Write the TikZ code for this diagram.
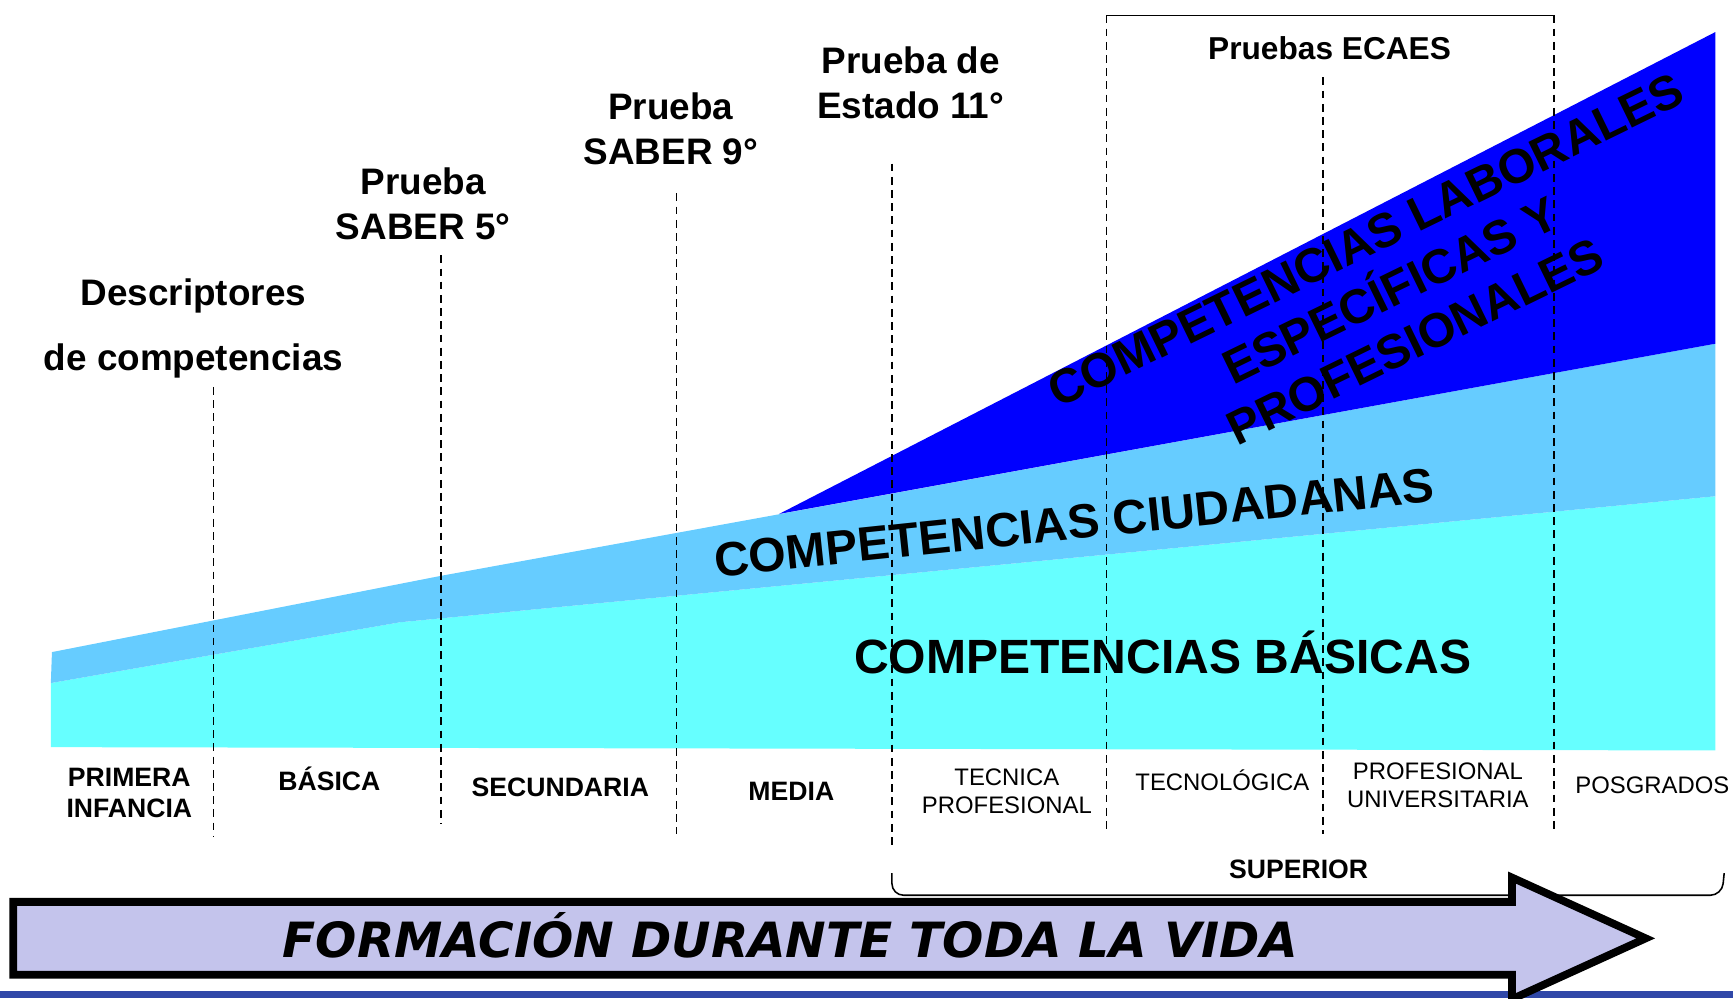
\documentclass[tikz,border=0pt]{standalone}
\usepackage{fontspec}
\setmainfont{Liberation Sans}
\newfontfamily\arrowfont{DejaVu Sans}
\definecolor{basicas}{HTML}{66FFFF}
\definecolor{ciudadanas}{HTML}{66CCFF}
\definecolor{laborales}{HTML}{0000FF}
\definecolor{lavanda}{HTML}{C4C4EC}
\definecolor{franja}{HTML}{3048A8}
\tikzset{
  prueba/.style={font=\bfseries\fontsize{19}{23.3}\selectfont, align=center, inner sep=0pt, anchor=base},
  nivel/.style={font=\bfseries\fontsize{13.7}{16}\selectfont, align=center, inner sep=0pt, anchor=base},
  ciclo/.style={font=\fontsize{12.3}{14.5}\selectfont, align=center, inner sep=0pt, anchor=base},
  competencia/.style={font=\bfseries\fontsize{24.75}{29}\selectfont, align=center, inner sep=0pt},
  corte/.style={dash pattern=on 4pt off 2.8pt, line width=0.7pt}
}
\begin{document}
\begin{tikzpicture}[x=0.02cm, y=-0.02cm]
        \useasboundingbox (0,0) rectangle (1568,903);

        \fill[basicas] (46,618)--(362,563)--(1552,449)--(1552,679)--(46,676)--cycle;
        \fill[ciudadanas] (47,590)--(399,521)--(1552,311)--(1552,449)--(362,563)--(46,618)--cycle;
        \fill[laborales] (705,465)--(1552,29)--(1552,311)--cycle;

        \draw[corte] (193,350)--(193,757);
        \draw[corte] (399,231)--(399,745);
        \draw[corte] (612,175)--(612,755);
        \draw[corte] (807,148)--(807,768);
        \draw[corte] (1001,14)--(1001,751);
        \draw[corte] (1197,70)--(1197,755);
        \draw[corte] (1406,14)--(1406,754);
        \draw[line width=0.8pt] (1001,14)--(1406,14);

        \node[prueba, font=\bfseries\fontsize{19}{33.6}\selectfont] (descriptores) at (175,335) {Descriptores\\de competencias};
        \node[prueba] (saber5) at (383,217) {Prueba\\SABER 5°};
        \node[prueba] (saber9) at (607,149) {Prueba\\SABER 9°};
        \node[prueba] (estado11) at (824,107) {Prueba de\\Estado 11°};
        \node[prueba, font=\bfseries\fontsize{16.3}{20}\selectfont] (ecaes) at (1203,54) {Pruebas ECAES};

        \node[competencia, rotate=26] (laborales) at (1258,263) {COMPETENCIAS LABORALES\\ESPECÍFICAS Y\\PROFESIONALES};
        \node[competencia, rotate=6] (ciudadanas) at (972,473) {COMPETENCIAS CIUDADANAS};
        \node[competencia, anchor=base] (basicas) at (1052,609) {COMPETENCIAS BÁSICAS};

        \node[nivel] (infancia) at (117,740) {PRIMERA\\INFANCIA};
        \node[nivel] (basica) at (298,715) {BÁSICA};
        \node[nivel] (secundaria) at (507,721) {SECUNDARIA};
        \node[nivel] (media) at (716,724) {MEDIA};
        \node[ciclo] (tecnica) at (911,736) {TECNICA\\PROFESIONAL};
        \node[ciclo] (tecnologica) at (1106,715) {TECNOLÓGICA};
        \node[ciclo] (universitaria) at (1301,731) {PROFESIONAL\\UNIVERSITARIA};
        \node[ciclo] (posgrados) at (1495,718) {POSGRADOS};
        \node[nivel] (superior) at (1175,795) {SUPERIOR};

        \draw[line width=0.8pt, rounded corners=6] (807,790)--(807,810)--(1558,810)--(1560,790);

        \fill[franja] (0,897) rectangle (1568,903);
        \draw[line width=4pt, fill=lavanda] (12,816)--(1368,816)--(1368,794)--(1489,849)--(1368,904)--(1368,882)--(12,882)--cycle;
        \node[font=\arrowfont\bfseries\itshape\fontsize{25}{30}\selectfont, inner sep=0pt, anchor=base] (vida) at (715,866) {FORMACIÓN DURANTE TODA LA VIDA};
      \end{tikzpicture}
\end{document}
